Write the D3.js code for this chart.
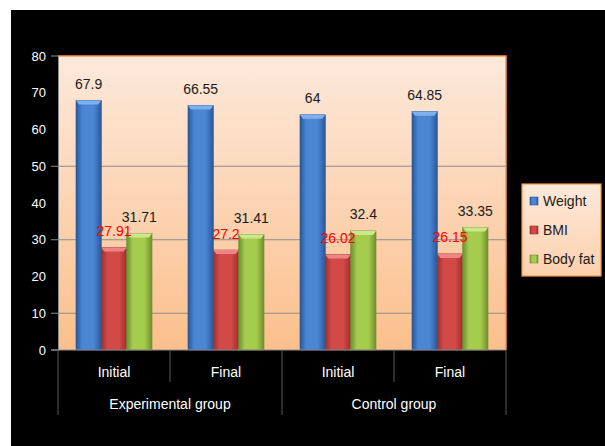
<!DOCTYPE html>
<html>
<head>
	<meta charset="utf-8">
	<title>Weight, BMI and Body fat</title>
	<script src="https://cdnjs.cloudflare.com/ajax/libs/d3/7.8.5/d3.min.js"></script>
	<style type="text/css">
		body { margin: 0; background: #fff; }
		text { font-family: "Liberation Sans", Arial, sans-serif; }
	</style>
</head>
<body>
	<script type="text/javascript">

		const categories = ['Initial', 'Final', 'Initial', 'Final'];
		const groups = ['Experimental group', 'Experimental group', 'Control group', 'Control group'];
		const series = ['Weight', 'BMI', 'Body fat'];
		const weight = [67.9, 66.55, 64, 64.85];
		const bmi = [27.91, 27.2, 26.02, 26.15];
		const bodyFat = [31.71, 31.41, 32.4, 33.35];
		const yTicks = [0, 10, 20, 30, 40, 50, 60, 70, 80];
		const gridValues = [10, 30, 50];

		const values = [weight, bmi, bodyFat];
		const colors = {
			'Weight':   { edge: '#2b5797', mid: '#4a86d4', top: '#7fb0ee', label: '#1a1a1a' },
			'BMI':      { edge: '#9c2f2d', mid: '#d24a47', top: '#ef8583', label: '#ff0000' },
			'Body fat': { edge: '#6f8f2f', mid: '#a6cc4e', top: '#cbe88a', label: '#1a1a1a' }
		};

		let svg = d3.select('body').append('svg')
			.attr('width', 605)
			.attr('height', 446);

		// outer black chart area
		svg.append('rect')
			.attr('x', 11).attr('y', 10)
			.attr('width', 594).attr('height', 436)
			.attr('fill', '#000');

		let defs = svg.append('defs');
		let bg = defs.append('linearGradient').attr('id', 'plotbg')
			.attr('x1', 0).attr('y1', 0).attr('x2', 0).attr('y2', 1);
		bg.append('stop').attr('offset', '0%').attr('stop-color', '#fde9db');
		bg.append('stop').attr('offset', '100%').attr('stop-color', '#fbbf8c');

		series.forEach((s, i) => {
			let g = defs.append('linearGradient').attr('id', 'bar' + i)
				.attr('x1', 0).attr('y1', 0).attr('x2', 1).attr('y2', 0);
			g.append('stop').attr('offset', '0%').attr('stop-color', colors[s].edge);
			g.append('stop').attr('offset', '25%').attr('stop-color', colors[s].mid);
			g.append('stop').attr('offset', '70%').attr('stop-color', colors[s].mid);
			g.append('stop').attr('offset', '100%').attr('stop-color', colors[s].edge);
		});

		let xScale = d3.scaleBand().domain(d3.range(categories.length)).range([58, 506]);
		let xInner = d3.scaleBand().domain(series).range([0, xScale.bandwidth()]).paddingOuter(0.71);
		let yScale = d3.scaleLinear().domain([0, 80]).range([350, 56]);

		// plot area
		svg.append('rect')
			.attr('x', 58).attr('y', yScale(80))
			.attr('width', 448).attr('height', yScale(0) - yScale(80))
			.attr('fill', 'url(#plotbg)');

		// gridlines
		svg.selectAll('.grid').data(gridValues).enter().append('line')
			.attr('class', 'grid')
			.attr('x1', 51).attr('x2', 506)
			.attr('y1', d => yScale(d)).attr('y2', d => yScale(d))
			.attr('stroke', '#8c8c8c').attr('stroke-width', 1);

		// bars
		let cat = svg.selectAll('.cat').data(categories).enter().append('g')
			.attr('class', 'cat')
			.attr('transform', (d, i) => `translate(${xScale(i)},0)`);

		series.forEach((s, si) => {
			cat.append('rect')
				.attr('x', xInner(s))
				.attr('y', (d, i) => yScale(values[si][i]))
				.attr('width', xInner.bandwidth())
				.attr('height', (d, i) => yScale(0) - yScale(values[si][i]))
				.attr('fill', `url(#bar${si})`)
				.attr('stroke', colors[s].edge)
				.attr('stroke-width', 0.6);
			cat.append('path')
				.attr('d', (d, i) => {
					let x0 = xInner(s), w = xInner.bandwidth(), y0 = yScale(values[si][i]);
					return `M${x0},${y0}H${x0 + w}L${x0 + w - 3},${y0 + 4}H${x0 + 3}Z`;
				})
				.attr('fill', colors[s].top);
		});

		// data labels
		series.forEach((s, si) => {
			cat.append('text')
				.attr('x', xInner(s) + xInner.bandwidth() / 2)
				.attr('y', (d, i) => yScale(values[si][i]) - 11.5)
				.attr('text-anchor', 'middle')
				.attr('font-size', 14)
				.attr('fill', colors[s].label)
				.text((d, i) => values[si][i]);
		});

		// plot border (top/right)
		svg.append('path')
			.attr('d', `M58,${yScale(80)}H506V${yScale(0)}`)
			.attr('fill', 'none')
			.attr('stroke', '#f79646')
			.attr('stroke-width', 1.5);

		// y axis
		let yAxis = svg.append('g')
			.attr('transform', 'translate(58,0)')
			.call(d3.axisLeft(yScale).tickValues(yTicks).tickSize(0).tickPadding(12));
		yAxis.select('.domain').attr('stroke', '#8c8c8c');
		yAxis.selectAll('text').attr('fill', '#fff').attr('font-size', 13)
			.attr('font-family', '"Liberation Sans", Arial, sans-serif');
		svg.selectAll('.ytick').data([0, 80]).enter().append('line')
			.attr('class', 'ytick')
			.attr('x1', 51).attr('x2', 58)
			.attr('y1', d => yScale(d)).attr('y2', d => yScale(d))
			.attr('stroke', '#8c8c8c');

		// x axis
		svg.append('line')
			.attr('x1', 51).attr('x2', 506)
			.attr('y1', yScale(0)).attr('y2', yScale(0))
			.attr('stroke', '#8c8c8c');

		let bounds = d3.range(categories.length + 1);
		svg.selectAll('.sep').data(bounds).enter().append('line')
			.attr('class', 'sep')
			.attr('x1', i => i < categories.length ? xScale(i) : 506)
			.attr('x2', i => i < categories.length ? xScale(i) : 506)
			.attr('y1', yScale(0))
			.attr('y2', i => (i === 0 || i === categories.length || groups[i] !== groups[i - 1]) ? 415 : 382)
			.attr('stroke', '#595959');

		svg.selectAll('.catlabel').data(categories).enter().append('text')
			.attr('class', 'catlabel')
			.attr('x', (d, i) => xScale(i) + xScale.bandwidth() / 2)
			.attr('y', 377)
			.attr('text-anchor', 'middle')
			.attr('font-size', 14)
			.attr('fill', '#fff')
			.text(d => d);

		let groupNames = Array.from(new Set(groups));
		svg.selectAll('.grplabel').data(groupNames).enter().append('text')
			.attr('class', 'grplabel')
			.attr('x', g => {
				let idx = d3.range(groups.length).filter(i => groups[i] === g);
				return (xScale(idx[0]) + xScale(idx[idx.length - 1]) + xScale.bandwidth()) / 2;
			})
			.attr('y', 409)
			.attr('text-anchor', 'middle')
			.attr('font-size', 14)
			.attr('fill', '#fff')
			.text(d => d);

		// legend
		let lg = defs.append('linearGradient').attr('id', 'legbg')
			.attr('x1', 0).attr('y1', 0).attr('x2', 0).attr('y2', 1);
		lg.append('stop').attr('offset', '0%').attr('stop-color', '#fde9db');
		lg.append('stop').attr('offset', '100%').attr('stop-color', '#fcd0ad');

		svg.append('rect')
			.attr('x', 522).attr('y', 184)
			.attr('width', 79).attr('height', 92)
			.attr('fill', 'url(#legbg)')
			.attr('stroke', '#f79646').attr('stroke-width', 1.2);

		let legendY = d3.scalePoint().domain(series).range([201, 259]);
		let item = svg.selectAll('.legend').data(series).enter().append('g')
			.attr('class', 'legend')
			.attr('transform', d => `translate(530,${legendY(d)})`);
		item.append('rect')
			.attr('x', 0).attr('y', -4)
			.attr('width', 8).attr('height', 8)
			.attr('fill', (d, i) => `url(#bar${i})`)
			.attr('stroke', d => colors[d].edge).attr('stroke-width', 0.6);
		item.append('text')
			.attr('x', 13).attr('y', 5)
			.attr('font-size', 14)
			.attr('fill', '#1a1a1a')
			.text(d => d);
	</script>
</body>
</html>
